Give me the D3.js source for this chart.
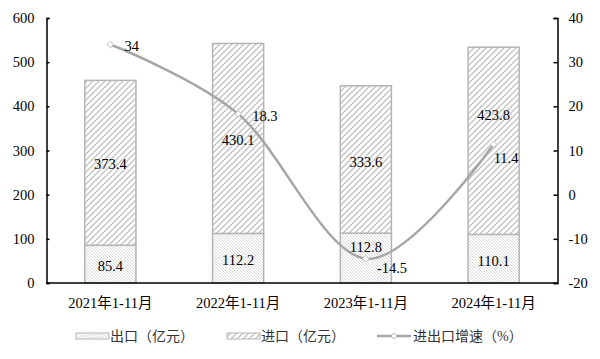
<!DOCTYPE html>
<html><head><meta charset="utf-8">
<script src="https://cdn.jsdelivr.net/npm/d3@7"></script>
<style>body{margin:0;background:#fff}svg{display:block}</style>
</head><body><svg id="c" width="600" height="359"></svg>
<script>
const categories = ["2021年1-11月","2022年1-11月","2023年1-11月","2024年1-11月"];
const exportVals = [85.4,112.2,112.8,110.1];
const importVals = [373.4,430.1,333.6,423.8];
const growth = [34,18.3,-14.5,11.4];
const leftTicks = [0,100,200,300,400,500,600];
const rightTicks = [-20,-10,0,10,20,30,40];
const seriesNames = ["出口（亿元）","进口（亿元）","进出口增速（%）"];

const svg = d3.select("#c");
const L = 46.5, R = 557.5, T = 18, B = 283;
const font = "'Liberation Serif','Noto Sans CJK SC',serif";
const cjk = "'Liberation Serif','Noto Sans CJK SC',serif";
const FS = 14.5;

const defs = svg.append("defs");
const p1 = defs.append("pattern").attr("id","pExp").attr("patternUnits","userSpaceOnUse")
  .attr("width",3).attr("height",3);
p1.append("rect").attr("width",3).attr("height",3).attr("fill","#fff");
p1.append("path").attr("d","M-1,-1 L4,4 M-1,2 L1,4 M2,-1 L4,1").attr("stroke","#d0d0d0").attr("stroke-width",0.8);
const p2 = defs.append("pattern").attr("id","pImp").attr("patternUnits","userSpaceOnUse")
  .attr("width",6).attr("height",6);
p2.append("rect").attr("width",6).attr("height",6).attr("fill","#fff");
p2.append("path").attr("d","M-1,7 L7,-1 M-1,1 L1,-1 M5,7 L7,5").attr("stroke","#c4c4c4").attr("stroke-width",1.4);

const x = d3.scaleBand().domain(categories).range([L,R]).paddingInner(0.6).paddingOuter(0.3);
const y = d3.scaleLinear().domain([0,600]).range([B,T]);
const y2 = d3.scaleLinear().domain([-20,40]).range([B,T]);

// bars
categories.forEach((c,i)=>{
  const e = exportVals[i], im = importVals[i];
  svg.append("rect").attr("x",x(c)).attr("width",x.bandwidth())
    .attr("y",y(e)).attr("height",y(0)-y(e))
    .attr("fill","url(#pExp)").attr("stroke","#b4b4b4").attr("stroke-width",1.5);
  svg.append("rect").attr("x",x(c)).attr("width",x.bandwidth())
    .attr("y",y(e+im)).attr("height",y(e)-y(e+im))
    .attr("fill","url(#pImp)").attr("stroke","#b4b4b4").attr("stroke-width",1.5);
});

// axes
const gl = svg.append("g").attr("transform",`translate(${L},0)`)
  .call(d3.axisRight(y).tickValues(leftTicks).tickSize(3));
gl.selectAll("text").remove();
leftTicks.forEach(t=>svg.append("text").attr("x",L-12).attr("y",y(t)).attr("dy","0.35em")
  .attr("text-anchor","end").attr("font-family",font).attr("font-size",FS).attr("fill","#000").text(t));
const gr = svg.append("g").attr("transform",`translate(${R},0)`)
  .call(d3.axisLeft(y2).tickValues(rightTicks).tickSize(4));
gr.selectAll("text").remove();
rightTicks.forEach(t=>svg.append("text").attr("x",R+11).attr("y",y2(t)).attr("dy","0.35em")
  .attr("text-anchor","start").attr("font-family",font).attr("font-size",FS).attr("fill","#000").text(t));
[gl,gr].forEach(g=>{g.select(".domain").attr("stroke","#000").attr("stroke-width",1.5);
  g.selectAll(".tick line").attr("stroke","#000").attr("stroke-width",1.5);});
svg.append("line").attr("x1",L).attr("x2",R).attr("y1",B).attr("y2",B).attr("stroke","#000").attr("stroke-width",1.5);

// x labels
categories.forEach(c=>svg.append("text").attr("x",x(c)+x.bandwidth()/2).attr("y",303).attr("dy","0.35em")
  .attr("text-anchor","middle").attr("font-family",cjk).attr("font-size",FS).attr("fill","#000").text(c));

// bar labels (manual nudges as in the reference)
const expOff = [[0,2],[0,2],[0,-11],[0,2]];
const impOff = [[0,1],[0,1],[0,2],[0,-26]];
categories.forEach((c,i)=>{
  const e = exportVals[i], im = importVals[i], cx = x(c)+x.bandwidth()/2;
  svg.append("text").attr("x",cx+expOff[i][0]).attr("y",(y(0)+y(e))/2+expOff[i][1]).attr("dy","0.35em").attr("text-anchor","middle")
    .attr("font-family",font).attr("font-size",FS).attr("fill","#000").text(e);
  svg.append("text").attr("x",cx+impOff[i][0]).attr("y",(y(e)+y(e+im))/2+impOff[i][1]).attr("dy","0.35em").attr("text-anchor","middle")
    .attr("font-family",font).attr("font-size",FS).attr("fill","#000").text(im);
});

// line
const pts = categories.map((c,i)=>[x(c)+x.bandwidth()/2, y2(growth[i])]);
svg.append("path").attr("d",d3.line().curve(d3.curveCatmullRom.alpha(0))(pts))
  .attr("fill","none").attr("stroke","#a6a6a6").attr("stroke-width",2.5);
pts.forEach(p=>svg.append("path").attr("d",d3.symbol(d3.symbolDiamond2,28)())
  .attr("transform",`translate(${p[0]},${p[1]})`).attr("fill","#fff").attr("stroke","#bdbdbd").attr("stroke-width",1));
const offs = [[14,1],[14,2],[11,9],[0,14]];
pts.forEach((p,i)=>svg.append("text").attr("x",p[0]+offs[i][0]).attr("y",p[1]+offs[i][1]).attr("dy","0.35em")
  .attr("font-family",font).attr("font-size",FS).attr("fill","#000").text(growth[i]));

// legend
const ly = 336;
svg.append("rect").attr("x",76).attr("y",ly-3).attr("width",33).attr("height",6)
  .attr("fill","url(#pExp)").attr("stroke","#b4b4b4").attr("stroke-width",1);
svg.append("text").attr("x",110).attr("y",ly).attr("dy","0.35em").attr("font-family",cjk).attr("font-size",14).attr("fill","#333").text(seriesNames[0]);
svg.append("rect").attr("x",227).attr("y",ly-3).attr("width",33).attr("height",6)
  .attr("fill","url(#pImp)").attr("stroke","#b4b4b4").attr("stroke-width",1);
svg.append("text").attr("x",261).attr("y",ly).attr("dy","0.35em").attr("font-family",cjk).attr("font-size",14).attr("fill","#333").text(seriesNames[1]);
svg.append("line").attr("x1",377).attr("x2",411).attr("y1",ly).attr("y2",ly).attr("stroke","#a6a6a6").attr("stroke-width",2.5);
svg.append("path").attr("d",d3.symbol(d3.symbolDiamond2,24)()).attr("transform",`translate(394,${ly})`)
  .attr("fill","#fff").attr("stroke","#bdbdbd");
svg.append("text").attr("x",413).attr("y",ly).attr("dy","0.35em").attr("font-family",cjk).attr("font-size",14).attr("fill","#333").text(seriesNames[2]);
</script></body></html>
